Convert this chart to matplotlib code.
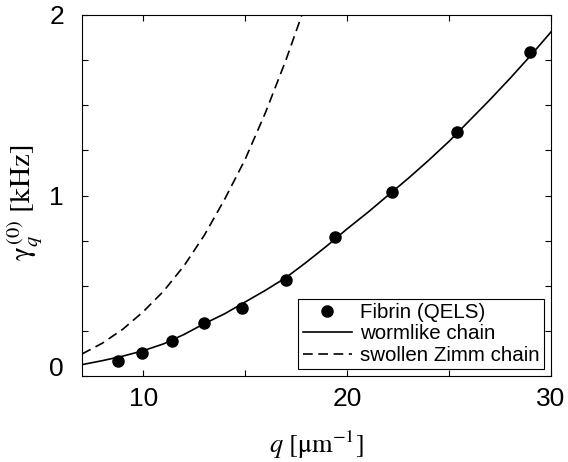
import numpy as np
import matplotlib
matplotlib.use("Agg")
import matplotlib.pyplot as plt
from matplotlib.legend_handler import HandlerLine2D
from matplotlib.ticker import FixedLocator

plt.rcParams['font.family'] = ['Liberation Sans', 'DejaVu Sans']
plt.rcParams['mathtext.fontset'] = 'stix'
plt.rcParams['lines.scale_dashes'] = False

# Data
q_data = [8.75, 9.96, 11.4, 13.0, 14.86, 17.0, 19.43, 22.2, 25.37, 28.96]
gamma_data = [0.083, 0.126, 0.196, 0.292, 0.379, 0.532, 0.772, 1.017, 1.35, 1.795]

q_wlc = [7, 8, 9, 10, 11, 12, 13, 14, 15, 16, 17, 18, 19, 20, 21, 22, 23, 24, 25, 26, 27, 28, 29, 30]
gamma_wlc = [0.063, 0.085, 0.11, 0.14, 0.178, 0.23, 0.29, 0.345, 0.41, 0.475, 0.545, 0.63, 0.72,
             0.815, 0.905, 1.0, 1.095, 1.195, 1.3, 1.415, 1.53, 1.65, 1.775, 1.906]

q_zimm = [7, 8, 9, 10, 11, 12, 13, 14, 15, 16, 17, 18]
gamma_zimm = [0.122, 0.182, 0.259, 0.356, 0.47, 0.61, 0.78, 0.98, 1.20, 1.46, 1.75, 2.07]

x_major = [10, 20, 30]
x_minor = [15, 25]
y_major = [0, 1, 2]
y_minor = [0.25, 0.5, 0.75, 1.25, 1.5, 1.75]

fig = plt.figure(figsize=(5.68, 4.62), dpi=100)
ax = fig.add_axes([82/568, 1-376/462, (551-82)/568, (376-15)/462])

pts, = ax.plot(q_data, gamma_data, 'o', color='black', markersize=8, label='Fibrin (QELS)',
               clip_on=False, zorder=3)
wlc, = ax.plot(q_wlc, gamma_wlc, '-', color='black', lw=1.2, label='wormlike chain')
zimm, = ax.plot(q_zimm, gamma_zimm, color='black', lw=1.2, dashes=(7, 4), label='swollen Zimm chain')

ax.set_xlim(7, 30)
ax.set_ylim(0, 2)
ax.xaxis.set_major_locator(FixedLocator(x_major))
ax.xaxis.set_minor_locator(FixedLocator(x_minor))
ax.yaxis.set_major_locator(FixedLocator(y_major))
ax.yaxis.set_minor_locator(FixedLocator(y_minor))
ax.set_xticklabels([str(v) for v in x_major])
ax.set_yticklabels([str(v) for v in y_major])

for which in ('major', 'minor'):
    ax.tick_params(axis='both', which=which, direction='in', length=4, width=0.8,
                   top=True, right=True, color='black')
ax.tick_params(axis='x', which='major', labelsize=19, pad=8)
ax.tick_params(axis='y', which='major', labelsize=19, pad=13)
ax.get_yticklabels()[0].set_va('baseline')

for s in ax.spines.values():
    s.set_linewidth(0.8)

ax.set_xlabel(r'$q\ [\mathrm{\mu m}^{-1}]$', fontsize=19)
ax.xaxis.set_label_coords(0.5, -0.145)
ax.xaxis.label.set_va('top')
ax.set_ylabel(r'$\mathrm{\gamma}_q^{\,(0)}\ [\mathrm{kHz}]$', fontsize=21)
ax.yaxis.set_label_coords(-0.08, 0.48)


class RightMarker(HandlerLine2D):
    def get_xdata(self, legend, xdescent, ydescent, width, height, fontsize):
        xd, xm = super().get_xdata(legend, xdescent, ydescent, width, height, fontsize)
        return xd, np.array([-xdescent + width - 4])


leg = ax.legend(handles=[pts, wlc, zimm], loc='lower right', fontsize=14.8, frameon=True,
                fancybox=False, edgecolor='black', framealpha=1, handlelength=2.4,
                handletextpad=0.4, borderpad=0.2, labelspacing=0.12, borderaxespad=0.35,
                handler_map={pts: RightMarker(numpoints=1)})
leg.get_frame().set_linewidth(0.8)

fig.savefig('out.png', dpi=100)
